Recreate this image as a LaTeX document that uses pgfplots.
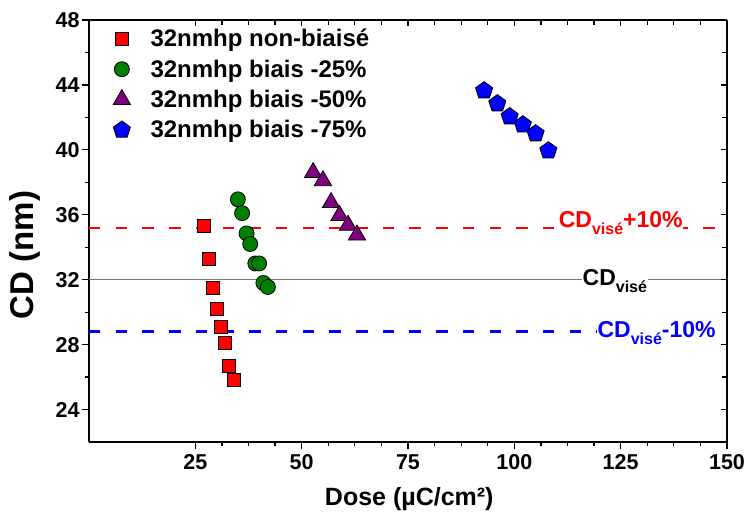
\documentclass[border=0pt]{standalone}
\usepackage{pgfplots}
\pgfplotsset{compat=1.18}
\usepackage{fontspec}
\setmainfont{Liberation Sans}
\definecolor{mygreen}{RGB}{0,128,0}
\definecolor{mypurple}{RGB}{128,0,128}
\definecolor{mygray}{RGB}{120,120,120}
\newcommand{\sub}[1]{\raisebox{-7bp}{\fontsize{16bp}{16bp}\selectfont #1}}
\begin{document}
\begin{tikzpicture}
\begin{axis}[
  width=638bp, height=422bp, scale only axis,
  xmin=0, xmax=150, ymin=22, ymax=48,
  axis x line*=bottom, axis y line*=left,
  axis line style={black, line width=1.5bp, -},
  xtick={25,50,...,150}, ytick={24,28,...,48},
  minor x tick num=3, minor y tick num=1,
  tick align=outside,
  major tick length=7bp, minor tick length=4bp,
  tick style={black, line width=1.2bp},
  /pgf/number format/assume math mode=true,
  ticklabel style={font=\fontsize{21.5bp}{21.5bp}\selectfont\bfseries},
  xticklabel style={yshift=-2bp},
  yticklabel style={xshift=1bp},
  xlabel={Dose (µC/cm²)}, ylabel={CD (nm)},
  xlabel style={font=\fontsize{25bp}{25bp}\selectfont\bfseries, at={(axis description cs:0.502,0)}, anchor=center, yshift=-57bp},
  ylabel style={font=\fontsize{33bp}{33bp}\selectfont\bfseries, at={(axis description cs:-0.1003,0.443)}, anchor=center},
  legend style={at={(axis description cs:0,1)}, anchor=north west, xshift=24bp, yshift=-7bp,
     draw=none, fill=none, font=\fontsize{24bp}{24bp}\selectfont\bfseries,
     row sep=7.5bp, inner sep=0pt, cells={anchor=west},
     /tikz/every odd column/.append style={column sep=18bp}},
  legend cell align=left,
  legend image code/.code={\draw[#1,only marks] plot coordinates {(0bp,0bp)};},
]
\addplot[forget plot, red, line width=2.4bp, dash pattern=on 11.5bp off 15.2bp] coordinates {(0,35.2) (150,35.2)};
\addplot[forget plot, blue, line width=2.4bp, dash pattern=on 11.5bp off 15.2bp] coordinates {(0,28.8) (150,28.8)};
\addplot[forget plot, mygray, line width=1.2bp] coordinates {(0,32) (150,32)};
\node[anchor=base west, text=red, fill=white, inner sep=0.5bp, font=\fontsize{23bp}{23bp}\selectfont\bfseries] at (axis cs:110.3,35.2) {CD\sub{visé}+10\%};
\node[anchor=base west, text=black, fill=white, inner sep=0.5bp, font=\fontsize{23bp}{23bp}\selectfont\bfseries] at (axis cs:115.9,31.66) {CD\sub{visé}};
\node[anchor=base west, text=blue, fill=white, inner sep=0.5bp, font=\fontsize{23bp}{23bp}\selectfont\bfseries] at (axis cs:119.4,28.46) {CD\sub{visé}-10\%};
\addplot[only marks, mark=square*, mark size=6.5bp, mark options={draw=black, line width=0.8bp, fill=red}] coordinates {
(27.1,35.3) (28.2,33.3) (29.1,31.5) (30.0,30.2) (31.05,29.1) (32.05,28.1) (33.0,26.7) (34.0,25.8)};
\addlegendentry{32nmhp non-biaisé}
\addplot[only marks, mark=*, mark size=7.5bp, mark options={draw=black, line width=0.8bp, fill=mygreen}] coordinates {
(35.0,36.95) (36.0,36.1) (37.05,34.85) (37.9,34.2) (39.1,33.0) (40.0,33.0) (41.0,31.8) (42.05,31.55)};
\addlegendentry{32nmhp biais -25\%}
\addplot[only marks, mark=triangle*, mark size=10bp, mark options={draw=black, line width=0.8bp, fill=mypurple}] coordinates {
(52.7,38.6) (55.0,38.1) (56.9,36.75) (58.9,35.95) (60.9,35.35) (63.0,34.75)};
\addlegendentry{32nmhp biais -50\%}
\addplot[only marks, mark=pentagon*, mark size=9bp, mark options={draw=black, line width=0.8bp, fill=blue}] coordinates {
(92.9,43.65) (96.0,42.85) (98.9,42.05) (102.0,41.55) (105.0,41.0) (108.0,39.95)};
\addlegendentry{32nmhp biais -75\%}
\end{axis}
\begin{axis}[
  width=638bp, height=422bp, scale only axis,
  xmin=0, xmax=150, ymin=22, ymax=48,
  axis x line*=top, axis y line*=right,
  axis line style={black, line width=1.5bp, -},
  xtick={25,50,...,150}, ytick={24,28,...,48},
  minor x tick num=3, minor y tick num=1,
  tick align=inside,
  major tick length=6bp, minor tick length=5bp,
  tick style={black, line width=1.2bp},
  xticklabels={}, yticklabels={},
]
\end{axis}
\pgfresetboundingbox
\path[use as bounding box] (-89bp,-73bp) rectangle (657bp,442bp);
\end{tikzpicture}
\end{document}
